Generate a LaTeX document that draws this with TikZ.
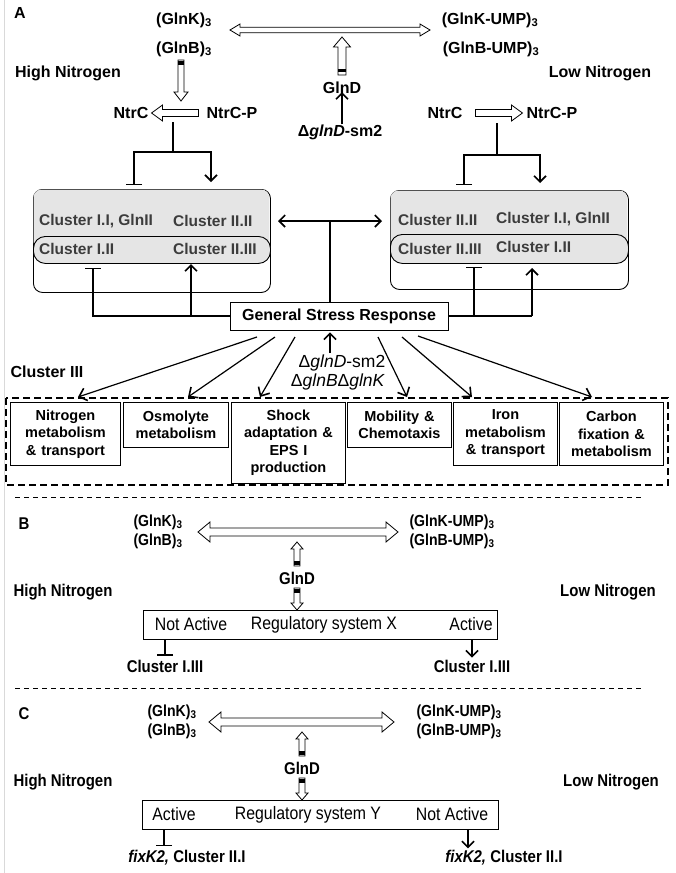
\documentclass[tikz,border=0pt]{standalone}
\usepackage{fontspec}
\setmainfont{Liberation Sans}
\newfontfamily\narrowfont[FakeStretch=0.88]{Liberation Sans}
\usetikzlibrary{arrows.meta,calc}
\definecolor{cltext}{HTML}{3C3C3C}
\definecolor{clfill}{HTML}{E5E5E5}
\newcommand\hollowone[6]{%
  \coordinate (#1h) at ($(#3)!#6pt!(#2)$);
  \draw[harr] ($(#2)!#4pt!90:(#3)$) -- ($(#1h)!#4pt!90:(#3)$) -- ($(#1h)!#5pt!90:(#3)$) -- (#3) -- ($(#1h)!#5pt!-90:(#3)$) -- ($(#1h)!#4pt!-90:(#3)$) -- ($(#2)!#4pt!-90:(#3)$) -- cycle;}
\newcommand\hollowtwo[6]{%
  \coordinate (#1a) at ($(#2)!#6pt!(#3)$);
  \coordinate (#1b) at ($(#3)!#6pt!(#2)$);
  \draw[harr] (#2) -- ($(#1a)!#5pt!90:(#3)$) -- ($(#1a)!#4pt!90:(#3)$) -- ($(#1b)!#4pt!90:(#3)$) -- ($(#1b)!#5pt!90:(#3)$) -- (#3) -- ($(#1b)!#5pt!-90:(#3)$) -- ($(#1b)!#4pt!-90:(#3)$) -- ($(#1a)!#4pt!-90:(#3)$) -- ($(#1a)!#5pt!-90:(#3)$) -- cycle;}
\newcommand\tailband[6]{%
  \coordinate (#1p) at ($(#2)!#5pt!(#3)$);
  \coordinate (#1q) at ($(#2)!#6pt!(#3)$);
  \fill ($(#1p)!#4pt!90:(#3)$) -- ($(#1q)!#4pt!90:(#3)$) -- ($(#1q)!#4pt!-90:(#3)$) -- ($(#1p)!#4pt!-90:(#3)$) -- cycle;}
\begin{document}
\begin{tikzpicture}[x=1pt,y=-1pt,
  lab/.style={font=\bfseries\fontsize{16}{18}\selectfont, inner sep=0pt},
  nlab/.style={font=\narrowfont\bfseries\fontsize{17}{19}\selectfont, inner sep=0pt},
  nglb/.style={font=\narrowfont\bfseries\fontsize{16}{18}\selectfont, inner sep=0pt},
  nreg/.style={font=\narrowfont\fontsize{18}{20}\selectfont, inner sep=0pt},
  cl/.style={font=\bfseries\fontsize{15.5}{18}\selectfont, text=cltext, inner sep=0pt, anchor=west},
  cbox/.style={draw, line width=0.9pt, font=\bfseries\fontsize{14.5}{17.5}\selectfont, align=center, inner sep=2pt, anchor=north west},
  harr/.style={draw, fill=white, line width=0.8pt},
  conn/.style={line width=1.2pt},
  tip/.style={-{Straight Barb[length=6pt,width=12pt,line width=1.6pt]}},
  tbar/.style={-{Bar[width=16pt,line width=1.2pt]}},
  sarr/.style={line width=1.2pt, -{Straight Barb[length=7pt,width=13pt,line width=1.6pt]}}]
\useasboundingbox (0,0) rectangle (675,873);
\coordinate (edge1) at (4,0); \coordinate (edge2) at (4,873);
\draw[black!15, line width=0.8pt] (edge1) -- (edge2);
% ---------------- Panel A
\node[lab] (A) at (20,13) {A};
\node[lab] (glnk) at (184,20) {(GlnK)\textsubscript{3}};
\node[lab] (glnb) at (184,49) {(GlnB)\textsubscript{3}};
\node[lab] (glnkump) at (490,20) {(GlnK-UMP)\textsubscript{3}};
\node[lab] (glnbump) at (491,49) {(GlnB-UMP)\textsubscript{3}};
\node[lab] (highA) at (68,73) {High Nitrogen};
\node[lab] (lowA) at (600,73) {Low Nitrogen};
\node[lab] (glndA) at (342,88) {GlnD};
\node[lab] (sm2A) at (340,132) {Δ\textit{glnD}-sm2};
\coordinate (dA1) at (230,30); \coordinate (dA2) at (430,30);
\hollowtwo{dA}{dA1}{dA2}{2.8}{6}{10}
\coordinate (uA1) at (342,75); \coordinate (uA2) at (342,37);
\hollowone{uA}{uA1}{uA2}{4}{8.5}{10}
\tailband{uAt}{uA1}{uA2}{4}{3}{6}
\draw[conn, tip] (sm2A.north -| glndA) -- ($(glndA.south)+(0,-2)$);
\coordinate (gbA1) at (181,60); \coordinate (gbA2) at (181,101);
\hollowone{gbA}{gbA1}{gbA2}{3}{7}{9}
\tailband{gbAt}{gbA1}{gbA2}{3}{1}{5}
\node[lab] (ntrcL) at (131,113) {NtrC};
\node[lab] (ntrcpL) at (232,113) {NtrC-P};
\node[lab] (ntrcR) at (445,113) {NtrC};
\node[lab] (ntrcpR) at (552,113) {NtrC-P};
\coordinate (nL1) at ($(ntrcpL.west)+(-8,0)$); \coordinate (nL2) at ($(ntrcL.east)+(3,0)$);
\hollowone{nL}{nL1}{nL2}{3.5}{8}{11}
\coordinate (nR1) at ($(ntrcR.east)+(13,0)$); \coordinate (nR2) at ($(ntrcpR.west)+(-4,0)$);
\hollowone{nR}{nR1}{nR2}{3.5}{8}{11}
% cluster boxes
\node[draw, line width=0.9pt, rounded corners=9, minimum width=237, minimum height=103, anchor=north west, inner sep=0] (lbox) at (33,189) {};
\fill[clfill, rounded corners=8] (33.6,189.6) rectangle (269.4,250);
\node[draw, line width=0.9pt, fill=clfill, rounded corners=12, minimum width=237, minimum height=27, anchor=north west, inner sep=0] (linner) at (33,236) {};
\node[cl] (l11) at (39,221) {Cluster I.I, GlnII};
\node[cl] (l22) at (173,221) {Cluster II.II};
\node[cl] (l12) at (39,249) {Cluster I.II};
\node[cl] (l23) at (173,249) {Cluster II.III};
\node[draw, line width=0.9pt, rounded corners=9, minimum width=238, minimum height=99, anchor=north west, inner sep=0] (rbox) at (390,190) {};
\fill[clfill, rounded corners=8] (390.6,190.6) rectangle (627.4,250);
\node[draw, line width=0.9pt, fill=clfill, rounded corners=12, minimum width=238, minimum height=29, anchor=north west, inner sep=0] (rinner) at (390,234) {};
\node[cl] (r22) at (398,220) {Cluster II.II};
\node[cl] (r11) at (496,219) {Cluster I.I, GlnII};
\node[cl] (r23) at (398,249) {Cluster II.III};
\node[cl] (r12) at (496,247) {Cluster I.II};
% NtrC regulation branches
\coordinate (lbr) at (173,152); \coordinate (lbar) at (134,185); \coordinate (larr) at (211,182);
\coordinate (lbrtop) at (173,122);
\draw[conn] (lbrtop) -- (lbr);
\draw[conn, tbar] (lbr) -| (lbar);
\draw[conn, tip] (lbr) -| (larr);
\coordinate (rbr) at (497,155); \coordinate (rbar) at (464,185); \coordinate (rarr) at (540,183);
\coordinate (rbrtop) at (497,123);
\draw[conn] (rbrtop) -- (rbr);
\draw[conn, tbar] (rbr) -| (rbar);
\draw[conn, tip] (rbr) -| (rarr);
% general stress response
\node[draw, line width=0.9pt, lab, minimum width=218, minimum height=28] (gsr) at (339,316) {General Stress Response};
\coordinate (lbar2) at (93,268); \coordinate (larr2) at (191,264);
\coordinate (rbar2) at (474,267); \coordinate (rarr2) at (532,268);
\draw[conn, tbar] (gsr.west) -| (lbar2);
\draw[conn, tip] (gsr.west -| larr2) -- (larr2);
\draw[conn] (gsr.east) -- (gsr.east -| rarr2);
\draw[conn, tbar] (gsr.east -| rbar2) -- (rbar2);
\draw[conn, tip] (gsr.east -| rarr2) -- (rarr2);
\coordinate (mid) at (330,221); \coordinate (mL) at (278,221); \coordinate (mR) at (382,221);
\draw[conn, tip] (mid) -- (mL);
\draw[conn, tip] (mid) -- (mR);
\draw[conn] (gsr.north -| mid) -- (mid);
\node[font=\fontsize{17.5}{19}\selectfont, inner sep=0] (sm2B) at (342,363) {Δ\textit{glnD}-sm2};
\node[font=\fontsize{17.5}{19}\selectfont, inner sep=0] (dbk) at (338,382) {Δ\textit{glnB}Δ\textit{glnK}};
\coordinate (upst) at (330,353);
\draw[conn, tip] (upst) -- ($(gsr.south -| mid)+(0,2)$);
\node[lab] (c3) at (47,372) {Cluster III};
% cluster III boxes
\coordinate (dash1) at (6,398); \coordinate (dash2) at (668,485);
\draw[line width=1.8pt, dash pattern=on 7pt off 4pt] (dash1) rectangle (dash2);
\node[cbox, minimum width=110, minimum height=63, text width=106] (b1) at (10,402) {Nitrogen\\metabolism\\\& transport};
\node[cbox, minimum width=105, minimum height=45, text width=101] (b2) at (123,402) {Osmolyte\\metabolism};
\node[cbox, minimum width=114, minimum height=81, text width=110] (b3) at (231,402) {Shock\\adaptation \&\\EPS I\\production};
\node[cbox, minimum width=104, minimum height=45, text width=100] (b4) at (347,402) {Mobility \&\\Chemotaxis};
\node[cbox, minimum width=104, minimum height=63, text width=100] (b5) at (453,402) {Iron\\metabolism\\\& transport};
\node[cbox, minimum width=104, minimum height=63, text width=100] (b6) at (559,402) {Carbon\\fixation \&\\metabolism};
\coordinate (s1) at (257,337); \coordinate (t1) at (78,397);
\coordinate (s2) at (275,337); \coordinate (t2) at (188,397);
\coordinate (s3) at (295,337); \coordinate (t3) at (260,397);
\coordinate (s4) at (378,337); \coordinate (t4) at (407,397);
\coordinate (s5) at (402,337); \coordinate (t5) at (472,397);
\coordinate (s6) at (418,336); \coordinate (t6) at (592,397);
\foreach \i in {1,...,6} {\draw[sarr] (s\i) -- (t\i);}
% ---------------- Panel B
\coordinate (sepB1) at (15,497); \coordinate (sepB2) at (642,497);
\draw[line width=0.9pt, dash pattern=on 5pt off 4pt] (sepB1) -- (sepB2);
\node[nlab] (B) at (24,524) {B};
\node[nglb] (glnkB) at (158,522) {(GlnK)\textsubscript{3}};
\node[nglb] (glnbB) at (158,541) {(GlnB)\textsubscript{3}};
\node[nglb] (glnkumpB) at (452,522) {(GlnK-UMP)\textsubscript{3}};
\node[nglb] (glnbumpB) at (452,541) {(GlnB-UMP)\textsubscript{3}};
\coordinate (dB1) at (198,532); \coordinate (dB2) at (398,532);
\hollowtwo{dB}{dB1}{dB2}{4}{10}{12}
\node[nlab] (glndB) at (297,578) {GlnD};
\coordinate (uB1) at (297,566); \coordinate (uB2) at (297,542);
\hollowone{uB}{uB1}{uB2}{3}{6}{7}
\tailband{uBt}{uB1}{uB2}{3}{1}{5}
\node[nlab] (highB) at (63,592) {High Nitrogen};
\node[nlab] (lowB) at (608,592) {Low Nitrogen};
\node[draw, line width=0.9pt, minimum width=354, minimum height=29, anchor=north west, inner sep=0] (regX) at (143,610) {};
\coordinate (vB1) at (297,588); \coordinate (vB2) at (regX.north -| vB1);
\hollowone{vB}{vB1}{vB2}{3}{6}{7}
\tailband{vBt}{vB1}{vB2}{3}{1}{5}
\node[nreg] (naX) at (191,624.5) {Not Active};
\node[nreg] (rsX) at (324,624.5) {Regulatory system X};
\node[nreg] (acX) at (471,624.5) {Active};
\node[nlab] (c13L) at (165,666) {Cluster I.III};
\node[nlab] (c13R) at (472,666) {Cluster I.III};
\draw[conn, tbar] (regX.south -| c13L) -- ($(c13L.north)+(0,-4)$);
\draw[conn, tip] (regX.south -| c13R) -- ($(c13R.north)+(0,-2)$);
% ---------------- Panel C
\coordinate (sepC1) at (15,688); \coordinate (sepC2) at (642,688);
\draw[line width=0.9pt, dash pattern=on 5pt off 4pt] (sepC1) -- (sepC2);
\node[nlab] (C) at (24,714) {C};
\node[nglb] (glnkC) at (172,712) {(GlnK)\textsubscript{3}};
\node[nglb] (glnbC) at (172,731) {(GlnB)\textsubscript{3}};
\node[nglb] (glnkumpC) at (459,712) {(GlnK-UMP)\textsubscript{3}};
\node[nglb] (glnbumpC) at (459,731) {(GlnB-UMP)\textsubscript{3}};
\coordinate (dC1) at (209,722); \coordinate (dC2) at (394,722);
\hollowtwo{dC}{dC1}{dC2}{4}{10}{12}
\node[nlab] (glndC) at (302,768) {GlnD};
\coordinate (uC1) at (302,756); \coordinate (uC2) at (302,732);
\hollowone{uC}{uC1}{uC2}{3}{6}{7}
\tailband{uCt}{uC1}{uC2}{3}{1}{5}
\node[nlab] (highC) at (63,782) {High Nitrogen};
\node[nlab] (lowC) at (611,782) {Low Nitrogen};
\node[draw, line width=0.9pt, minimum width=356, minimum height=29, anchor=north west, inner sep=0] (regY) at (142,800) {};
\coordinate (vC1) at (302,778); \coordinate (vC2) at (regY.north -| vC1);
\hollowone{vC}{vC1}{vC2}{3}{6}{7}
\tailband{vCt}{vC1}{vC2}{3}{1}{5}
\node[nreg] (acY) at (174,814.5) {Active};
\node[nreg] (rsY) at (308,814.5) {Regulatory system Y};
\node[nreg] (naY) at (452,814.5) {Not Active};
\node[nlab] (fxL) at (187,858) {\textit{fixK2,} Cluster II.I};
\node[nlab] (fxR) at (504,858) {\textit{fixK2,} Cluster II.I};
\draw[conn, tbar] (regY.south -| 164,0) -- ($(fxL.north -| 164,0)+(0,-4)$);
\draw[conn, tip] (regY.south -| 468,0) -- ($(fxR.north -| 468,0)+(0,-2)$);
\end{tikzpicture}
\end{document}
